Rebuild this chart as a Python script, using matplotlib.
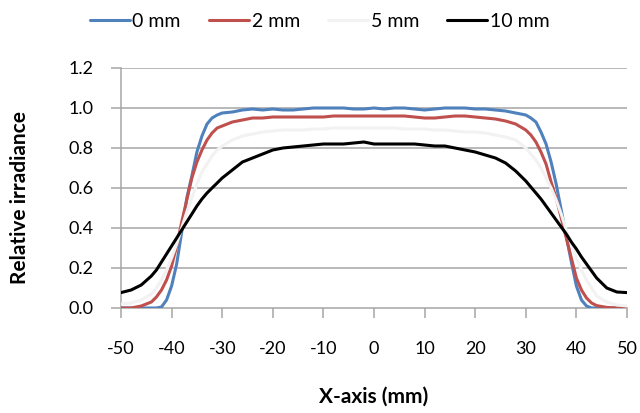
import matplotlib
matplotlib.use("Agg")
import matplotlib.pyplot as plt

plt.rcParams['axes.unicode_minus'] = False
plt.rcParams['font.family'] = ['Lato', 'DejaVu Sans']

x_mm = [-50, -48, -46, -44, -43, -42, -41, -40, -39, -38, -37, -36, -35, -34, -33, -32, -31, -30,
        -28, -26, -24, -22, -20, -18, -16, -14, -12, -10, -8, -6, -4, -2, 0, 2, 4, 6, 8, 10,
        12, 14, 16, 18, 20, 22, 24, 26, 28,
        30, 31, 32, 33, 34, 35, 36, 37, 38, 39, 40, 41, 42, 43, 44, 46, 48, 50]

irr_0mm = [0, 0, 0, 0, 0, 0.005, 0.04, 0.11, 0.22, 0.38, 0.55, 0.66, 0.78, 0.86, 0.92, 0.95, 0.965, 0.975,
           0.98, 0.99, 0.995, 0.99, 0.995, 0.99, 0.99, 0.995, 1.0, 1.0, 1.0, 1.0, 0.995, 0.995, 1.0,
           0.995, 1.0, 1.0, 0.995, 0.99, 0.995, 1.0, 1.0, 1.0, 0.995, 0.995, 0.99, 0.985, 0.975,
           0.965, 0.95, 0.93, 0.88, 0.82, 0.73, 0.62, 0.49, 0.36, 0.23, 0.11, 0.04, 0.01, 0, 0, 0, 0, 0]
irr_2mm = [0, 0, 0.01, 0.03, 0.055, 0.09, 0.14, 0.21, 0.31, 0.43, 0.54, 0.65, 0.73, 0.79, 0.84, 0.875, 0.9, 0.91,
           0.93, 0.94, 0.95, 0.95, 0.955, 0.955, 0.955, 0.955, 0.955, 0.955, 0.96, 0.96, 0.96, 0.96, 0.96,
           0.96, 0.96, 0.96, 0.955, 0.95, 0.95, 0.955, 0.96, 0.96, 0.955, 0.95, 0.945, 0.935, 0.92,
           0.89, 0.865, 0.83, 0.78, 0.72, 0.63, 0.55, 0.45, 0.35, 0.25, 0.15, 0.09, 0.05, 0.025, 0.012, 0.003, 0, 0]
irr_5mm = [0.02, 0.025, 0.04, 0.07, 0.1, 0.14, 0.19, 0.25, 0.32, 0.40, 0.48, 0.55, 0.62, 0.68, 0.72, 0.76, 0.79, 0.81,
           0.84, 0.86, 0.87, 0.88, 0.885, 0.89, 0.89, 0.89, 0.895, 0.895, 0.9, 0.9, 0.9, 0.9, 0.9,
           0.9, 0.9, 0.895, 0.895, 0.895, 0.89, 0.89, 0.885, 0.88, 0.88, 0.875, 0.865, 0.855, 0.84,
           0.80, 0.77, 0.74, 0.70, 0.65, 0.60, 0.54, 0.47, 0.39, 0.32, 0.25, 0.19, 0.14, 0.10, 0.06, 0.03, 0.015, 0.01]
irr_10mm = [0.077, 0.09, 0.115, 0.16, 0.19, 0.23, 0.27, 0.31, 0.35, 0.39, 0.43, 0.47, 0.51, 0.545, 0.575, 0.60, 0.625, 0.65,
            0.69, 0.73, 0.75, 0.77, 0.79, 0.80, 0.805, 0.81, 0.815, 0.82, 0.82, 0.82, 0.825, 0.83, 0.82,
            0.82, 0.82, 0.82, 0.82, 0.815, 0.81, 0.81, 0.80, 0.79, 0.78, 0.765, 0.75, 0.725, 0.685,
            0.635, 0.605, 0.575, 0.545, 0.51, 0.475, 0.44, 0.405, 0.37, 0.33, 0.295, 0.255, 0.22, 0.185, 0.15, 0.10, 0.08, 0.077]

series_labels = ['0 mm', '2 mm', '5 mm', '10 mm']
series_colors = ['#4F81BD', '#C0504D', '#F2F2F2', '#000000']
x_ticks = [-50, -40, -30, -20, -10, 0, 10, 20, 30, 40, 50]
y_ticks = [0.0, 0.2, 0.4, 0.6, 0.8, 1.0, 1.2]

fig = plt.figure(figsize=(6.4, 4.13), dpi=100)
ax = fig.add_axes([121/640, 1 - 308/413, (627-121)/640, (308-68)/413])

grid_c = '#A6A6A6'
for yv in y_ticks[1:]:
    ax.axhline(yv, color=grid_c, lw=1.1, zorder=1)

for ys, lab, c in zip([irr_0mm, irr_2mm, irr_5mm, irr_10mm], series_labels, series_colors):
    ax.plot(x_mm, ys, color=c, lw=2.2, label=lab, zorder=3,
            solid_capstyle='round', solid_joinstyle='round')

ax.set_xlim(-50, 50)
ax.set_ylim(0, 1.2)
ax.set_xticks(x_ticks)
ax.set_yticks(y_ticks)
ax.set_xticklabels([str(v) for v in x_ticks])
ax.set_yticklabels([f"{v:.1f}" for v in y_ticks])
for s in ['top', 'right']:
    ax.spines[s].set_visible(False)
for s in ['left', 'bottom']:
    ax.spines[s].set_color(grid_c)
    ax.spines[s].set_linewidth(1.1)
    ax.spines[s].set_zorder(2)
ax.tick_params(axis='x', length=7, width=1.1, color=grid_c, pad=17, labelsize=13)
ax.tick_params(axis='y', length=7, width=1.1, color=grid_c, pad=13, labelsize=13)

ax.set_xlabel('X-axis (mm)', fontsize=15, fontweight='bold', va='center', ha='center')
ax.xaxis.set_label_coords(0.5, (308 - 397) / 240)
ax.set_ylabel('Relative irradiance', fontsize=15, fontweight='bold', va='center', ha='center')
ax.yaxis.set_label_coords((20 - 121) / 506, (308 - 198) / 240)

fig.legend(loc='upper left', bbox_to_anchor=(72/640, 1.012), ncol=4, frameon=False,
           fontsize=14, handlelength=2.06, handletextpad=0.15, columnspacing=1.44)

fig.savefig('out.png', dpi=100)
